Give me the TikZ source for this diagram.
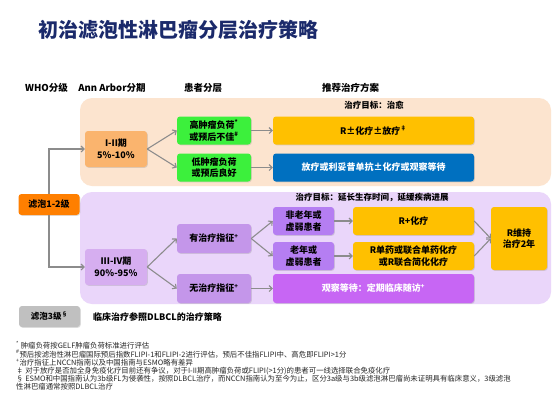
\documentclass[tikz,border=0pt]{standalone}
\usepackage{fontspec}
\setmainfont{Noto Sans CJK SC}
\usetikzlibrary{arrows.meta,shadows}
\definecolor{navy}{HTML}{1B2A6B}
\definecolor{peach}{HTML}{FCE4CF}
\definecolor{lav}{HTML}{EAD6FA}
\definecolor{orangeL}{HTML}{FAB46E}
\definecolor{greenB}{HTML}{3CF03C}
\definecolor{gold}{HTML}{FFC000}
\definecolor{blueB}{HTML}{0070C0}
\definecolor{orangeD}{HTML}{FF7F00}
\definecolor{purL}{HTML}{D6AEF0}
\definecolor{purM}{HTML}{C496EA}
\definecolor{purS}{HTML}{B57EF2}
\definecolor{magP}{HTML}{C766F4}
\definecolor{grayB}{HTML}{C0C0C0}
\definecolor{arrg}{HTML}{8C8C8C}
\tikzset{
  panel/.style={rounded corners=12pt, draw=none, inner sep=0pt},
  bx/.style={rounded corners=3pt, draw=none, align=center, inner sep=1pt,
    font=\bfseries\fontsize{9}{11.5}\selectfont,
    drop shadow={opacity=0.25, shadow xshift=0.8pt, shadow yshift=-0.8pt}},
  hdr/.style={font=\bfseries\fontsize{9.5}{11}\selectfont, inner sep=0pt},
  goal/.style={font=\bfseries\fontsize{8.5}{10}\selectfont, inner sep=0pt},
  arr/.style={draw=arrg, line width=1.1pt, -{Straight Barb[length=3pt,width=6pt]}},
  fn/.style={anchor=west, inner sep=0pt, font=\fontsize{7.4}{8}\selectfont, text=black!85}
}
\begin{document}
\begin{tikzpicture}[x=1pt,y=-1pt]
\useasboundingbox (0,0) rectangle (554,400);
\fill[white] (0,0) rectangle (554,400);

% title
\node[anchor=west, inner sep=0pt, text=navy, font=\bfseries\fontsize{20}{22}\selectfont] (title) at (38,30) {初治滤泡性淋巴瘤分层治疗策略};

% headers
\node[hdr] (h1) at (46.5,88) {WHO分级};
\node[hdr] (h2) at (112,88) {Ann Arbor分期};
\node[hdr] (h3) at (203,88) {患者分层};
\node[hdr] (h4) at (350.5,88) {推荐治疗方案};

% panels
\node[panel, fill=peach, minimum width=471, minimum height=88] (ptop) at (315.5,142) {};
\node[panel, fill=lav, minimum width=471, minimum height=112] (pbot) at (315.5,248) {};

\node[goal] (g1) at (374,105) {治疗目标：治愈};
\node[goal] (g2) at (372,197) {治疗目标：延长生存时间，延缓疾病进展};

% left
\node[bx, fill=orangeD, minimum width=61, minimum height=21] (f12) at (49,204.5) {滤泡1-2级};
\node[bx, fill=grayB, minimum width=61, minimum height=21, font=\bfseries\fontsize{8.5}{10}\selectfont] (f3) at (49.5,316.5) {滤泡3级\textsuperscript{§}};
\node[anchor=west, inner sep=0pt, font=\bfseries\fontsize{9}{11}\selectfont] (dlbcl) at (93,317) {临床治疗参照DLBCL的治疗策略};

% stage boxes
\node[bx, fill=orangeL, minimum width=62, minimum height=36] (s12) at (116,149) {I-II期\\5\%-10\%};
\node[bx, fill=purL, minimum width=62, minimum height=36] (s34) at (116,267) {III-IV期\\90\%-95\%};

% top section
\node[bx, fill=greenB, minimum width=74, minimum height=28] (hi) at (214,130.5) {高肿瘤负荷\textsuperscript{*}\\或预后不佳\textsuperscript{\#}};
\node[bx, fill=greenB, minimum width=74, minimum height=28] (lo) at (214,167.5) {低肿瘤负荷\\或预后良好};
\node[bx, fill=gold, minimum width=201, minimum height=28] (r1) at (373.5,130.5) {R±化疗±放疗\textsuperscript{‡}};
\node[bx, fill=blueB, text=white, minimum width=201, minimum height=28] (rt) at (373.5,167.5) {放疗或利妥昔单抗±化疗或观察等待};

% bottom section
\node[bx, fill=purM, minimum width=74, minimum height=29] (yes) at (214,238.5) {有治疗指征\textsuperscript{+}};
\node[bx, fill=purM, minimum width=74, minimum height=29] (no) at (214,288.5) {无治疗指征\textsuperscript{+}};
\node[bx, fill=purS, minimum width=61, minimum height=28] (young) at (303.5,221) {非老年或\\虚弱患者};
\node[bx, fill=purS, minimum width=61, minimum height=28] (old) at (303.5,256) {老年或\\虚弱患者};
\node[bx, fill=gold, minimum width=121, minimum height=28] (rc) at (413.5,221) {R+化疗};
\node[bx, fill=gold, minimum width=121, minimum height=28] (rs) at (413.5,256) {R单药或联合单药化疗\\或R联合简化化疗};
\node[bx, fill=gold, minimum width=56, minimum height=63] (rm) at (519,238.5) {R维持\\治疗2年};
\node[bx, fill=magP, text=white, minimum width=201, minimum height=29] (watch) at (373.5,288.5) {观察等待：定期临床随访\textsuperscript{+}};

% connectors
\draw[arr] (f12.north) |- (s12.west);
\draw[arr] (f12.south) |- (s34.west);
\draw[arr] (s12.east) -- (hi.west);
\draw[arr] (s12.east) -- (lo.west);
\draw[arr] (hi.east) -- (r1.west);
\draw[arr] (lo.east) -- (rt.west);
\draw[arr] (s34.east) -- (yes.west);
\draw[arr] (s34.east) -- (no.west);
\draw[arr] (yes.east) -- (young.west);
\draw[arr] (yes.east) -- (old.west);
\draw[arr] (young.east) -- (rc.west);
\draw[arr] (old.east) -- (rs.west);
\draw[arr] (rc.east) -- (rm.west);
\draw[arr] (rs.east) -- (rm.west);
\draw[arr] (no.east) -- (watch.west);

% footnotes
\node[fn] (n1) at (16,345) {\textsuperscript{*} 肿瘤负荷按GELF肿瘤负荷标准进行评估};
\node[fn] (n2) at (16,354) {\textsuperscript{\#}预后按滤泡性淋巴瘤国际预后指数FLIPI-1和FLIPI-2进行评估，预后不佳指FLIPI中、高危即FLIPI>1分};
\node[fn] (n3) at (16,362.5) {\textsuperscript{+}治疗指征上NCCN指南以及中国指南与ESMO略有差异};
\node[fn] (n4) at (16,371) {‡ 对于放疗是否加全身免疫化疗目前还有争议，对于I-II期高肿瘤负荷或FLIPI(>1分)的患者可一线选择联合免疫化疗};
\node[fn] (n5) at (16,379) {§ ESMO和中国指南认为3b级FL为侵袭性，按照DLBCL治疗，而NCCN指南认为至今为止，区分3a级与3b级滤泡淋巴瘤尚未证明具有临床意义，3级滤泡};
\node[fn] (n6) at (16,387) {性淋巴瘤通常按照DLBCL治疗};
\end{tikzpicture}
\end{document}
